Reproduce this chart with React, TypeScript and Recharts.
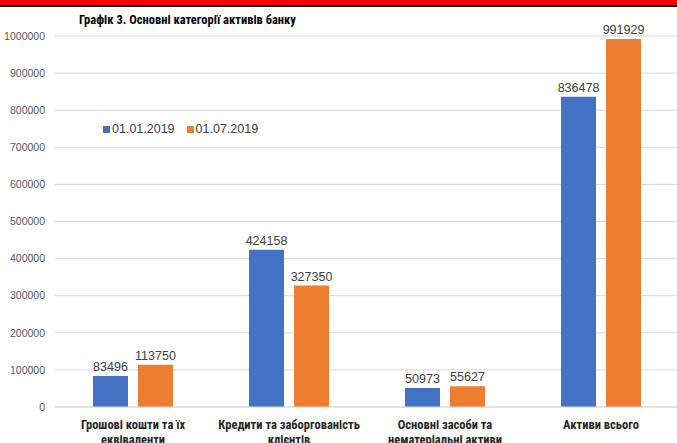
import React from "react";
import { BarChart, Bar, XAxis, YAxis, CartesianGrid, Legend, LabelList } from "recharts";

const categories = [
  "Грошові кошти та їх еквіваленти",
  "Кредити та заборгованість клієнтів",
  "Основні засоби та нематеріальні активи",
  "Активи всього",
];
const series2019Jan = [83496, 424158, 50973, 836478];
const series2019Jul = [113750, 327350, 55627, 991929];
const yTicks = [0, 100000, 200000, 300000, 400000, 500000, 600000, 700000, 800000, 900000, 1000000];
const seriesNames = ["01.01.2019", "01.07.2019"];
const title = "Графік 3. Основні категорії активів банку";

const data = categories.map((c, i) => ({ name: c, a: series2019Jan[i], b: series2019Jul[i] }));

const NARROW = "'Liberation Sans Narrow', 'Roboto Condensed', Roboto, sans-serif";
const SANS = "'Liberation Sans', Arial, sans-serif";

function wrap(text: string, maxChars: number): string[] {
  const words = text.split(" ");
  const lines: string[] = [];
  let cur = "";
  for (const w of words) {
    const t = cur ? cur + " " + w : w;
    if (t.length > maxChars && cur) {
      lines.push(cur);
      cur = w;
    } else cur = t;
  }
  if (cur) lines.push(cur);
  return lines;
}

const CatTick = (props: any) => {
  const { x, y, payload } = props;
  const lines = wrap(payload.value, 26);
  return (
    <g transform={`translate(${x},${y})`}>
      {lines.map((l, i) => (
        <text key={i} x={0} y={14 + i * 15} textAnchor="middle" fontFamily={NARROW} fontWeight="bold" fontSize={12.5} fill="#262626">
          {l}
        </text>
      ))}
    </g>
  );
};

const LegendContent = (props: any) => {
  const { payload } = props;
  return (
    <div style={{ display: "flex", fontFamily: SANS, fontSize: 12.5, color: "#404040" }}>
      {payload.map((p: any, i: number) => (
        <div key={i} style={{ display: "flex", alignItems: "center", marginRight: 12 }}>
          <span style={{ display: "inline-block", width: 7, height: 7, background: p.color, marginRight: 2 }} />
          <span>{p.value}</span>
        </div>
      ))}
    </div>
  );
};

export default function App() {
  return (
    <div style={{ position: "absolute", left: 0, top: 0, width: 677, height: 443, overflow: "hidden", background: "#fff" }}>
      <div style={{ position: "absolute", left: 0, top: 0, width: 677, height: 5, background: "#ff0000" }} />
      <div style={{ position: "absolute", left: 0, top: 5, width: 677, height: 2, background: "#000" }} />
      <div style={{ position: "absolute", left: 79, top: 12, fontFamily: NARROW, fontWeight: "bold", fontSize: 12.5, color: "#000", whiteSpace: "nowrap" }}>
        {title}
      </div>
      <BarChart
        width={680}
        height={443}
        data={data}
        margin={{ top: 36, right: 1, bottom: 0, left: 0 }}
        barCategoryGap={38}
        barGap={10}
      >
        <CartesianGrid vertical={false} stroke="#d9d9d9" />
        <XAxis dataKey="name" height={36} tickLine={false} axisLine={{ stroke: "#d9d9d9" }} tick={<CatTick />} interval={0} />
        <YAxis
          width={55}
          domain={[0, 1000000]}
          ticks={yTicks}
          tickLine={false}
          axisLine={false}
          tickMargin={4}
          tick={{ fill: "#595959", fontSize: 10.5, fontFamily: SANS }}
        />
        <Legend
          layout="horizontal"
          verticalAlign="middle"
          align="center"
          content={<LegendContent />}
          wrapperStyle={{ top: 122, left: 103, width: 220, height: 16 }}
        />
        <Bar dataKey="a" name={seriesNames[0]} fill="#4472c4" isAnimationActive={false}>
          <LabelList dataKey="a" position="top" offset={5} fill="#404040" fontSize={12.5} fontFamily={SANS} />
        </Bar>
        <Bar dataKey="b" name={seriesNames[1]} fill="#ed7d31" isAnimationActive={false}>
          <LabelList dataKey="b" position="top" offset={5} fill="#404040" fontSize={12.5} fontFamily={SANS} />
        </Bar>
      </BarChart>
    </div>
  );
}
